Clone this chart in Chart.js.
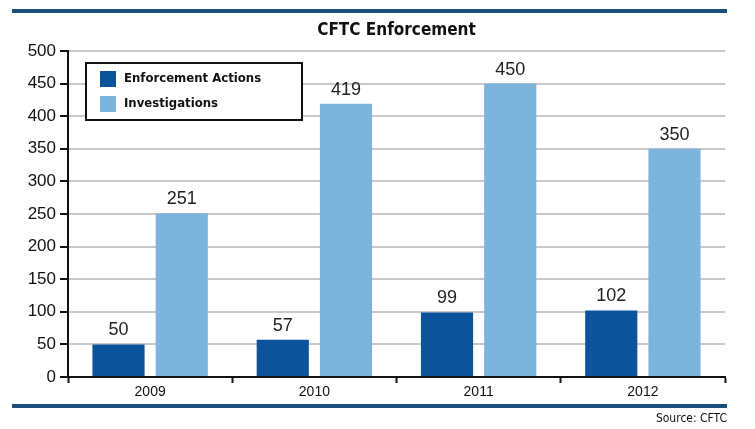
<!DOCTYPE html>
<html lang="en">
<head>
<meta charset="UTF-8">
<title>CFTC Enforcement</title>
<script src="https://cdn.jsdelivr.net/npm/chart.js"></script>
<style>
  html, body { margin: 0; padding: 0; background: #fff; }
  #wrap { width: 755px; height: 429px; position: relative; }
</style>
</head>
<body>
<div id="wrap"><canvas id="myChart"></canvas></div>

<script>
// dados do gráfico
const anos = ['2009', '2010', '2011', '2012'];
const acoes = [50, 57, 99, 102];
const investigacoes = [251, 419, 450, 350];
const yTicks = [0, 50, 100, 150, 200, 250, 300, 350, 400, 450, 500];

const azulEscuro = '#0b549c';
const azulClaro = '#7db4de';
const azulLinha = '#1b4f7d';

// desenha título, faixas, fonte, legenda e rótulos
const extras = {
  id: 'extras',
  afterDatasetsDraw(chart) {
    const ctx = chart.ctx;
    ctx.save();

    // rótulos acima das barras
    ctx.fillStyle = '#222';
    ctx.font = '18px "Liberation Sans", Arial, sans-serif';
    ctx.textAlign = 'center';
    ctx.textBaseline = 'bottom';
    chart.data.datasets.forEach((ds, i) => {
      chart.getDatasetMeta(i).data.forEach((bar, j) => {
        ctx.fillText(ds.data[j], bar.x, bar.y - 5);
      });
    });

    // legenda
    const lx = 86, ly = 63, lw = 216, lh = 57;
    ctx.fillStyle = '#fff';
    ctx.fillRect(lx, ly, lw, lh);
    ctx.strokeStyle = '#111';
    ctx.lineWidth = 2;
    ctx.strokeRect(lx, ly, lw, lh);
    ctx.font = 'bold 13px "Liberation Sans Narrow", "DejaVu Sans Condensed", Arial, sans-serif';
    ctx.textAlign = 'left';
    ctx.textBaseline = 'middle';
    chart.data.datasets.forEach((ds, i) => {
      const y = ly + 16 + i * 25;
      ctx.fillStyle = ds.backgroundColor;
      ctx.fillRect(lx + 14, y - 8, 16, 16);
      ctx.fillStyle = '#111';
      ctx.fillText(ds.label, lx + 38, y);
    });

    ctx.restore();
  },
  afterDraw(chart) {
    const ctx = chart.ctx;
    const area = chart.chartArea;
    ctx.save();
    ctx.fillStyle = azulLinha;
    ctx.fillRect(12, 9, 715, 4);
    ctx.fillRect(12, 404, 715, 4);

    ctx.fillStyle = '#111';
    ctx.font = 'bold 17px "Liberation Sans Narrow", "DejaVu Sans Condensed", Arial, sans-serif';
    ctx.textAlign = 'center';
    ctx.textBaseline = 'middle';
    ctx.fillText('CFTC Enforcement', (area.left + area.right) / 2, 31);

    ctx.font = '12px "Liberation Sans Narrow", "DejaVu Sans Condensed", Arial, sans-serif';
    ctx.textAlign = 'right';
    ctx.fillText('Source: CFTC', 727, 419);
    ctx.restore();
  }
};

const config = {
  type: 'bar',
  data: {
    labels: anos,
    datasets: [
      { label: 'Enforcement Actions', data: acoes, backgroundColor: azulEscuro },
      { label: 'Investigations', data: investigacoes, backgroundColor: azulClaro }
    ]
  },
  options: {
    responsive: false,
    animation: false,
    devicePixelRatio: 1,
    layout: { padding: { top: 51, right: 30, bottom: 30, left: 0 } },
    plugins: {
      legend: { display: false },
      tooltip: { enabled: false }
    },
    datasets: {
      bar: { categoryPercentage: 0.77, barPercentage: 0.825 }
    },
    scales: {
      x: {
        afterFit(scale) { scale.height = 22; },
        grid: {
          offset: true,
          drawOnChartArea: false,
          drawTicks: true,
          tickLength: 6,
          tickColor: '#111',
          tickWidth: 2
        },
        border: { color: '#111', width: 2 },
        ticks: {
          color: '#111',
          padding: 1,
          font: { family: '"Liberation Sans", Arial, sans-serif', size: 14 }
        }
      },
      y: {
        min: 0,
        max: 500,
        afterFit(scale) { scale.width = 68; },
        afterBuildTicks(scale) { scale.ticks = yTicks.map(v => ({ value: v })); },
        grid: {
          color: '#c9c9c9',
          lineWidth: 2,
          drawTicks: true,
          tickLength: 8,
          tickColor: '#111',
          tickWidth: 2
        },
        border: { color: '#111', width: 2 },
        ticks: {
          color: '#111',
          padding: 4,
          font: { family: '"Liberation Sans", Arial, sans-serif', size: 17 }
        }
      }
    }
  },
  plugins: [extras]
};

const canvas = document.getElementById('myChart');
canvas.width = 755;
canvas.height = 429;
const grafico = new Chart(canvas, config);
</script>
</body>
</html>
